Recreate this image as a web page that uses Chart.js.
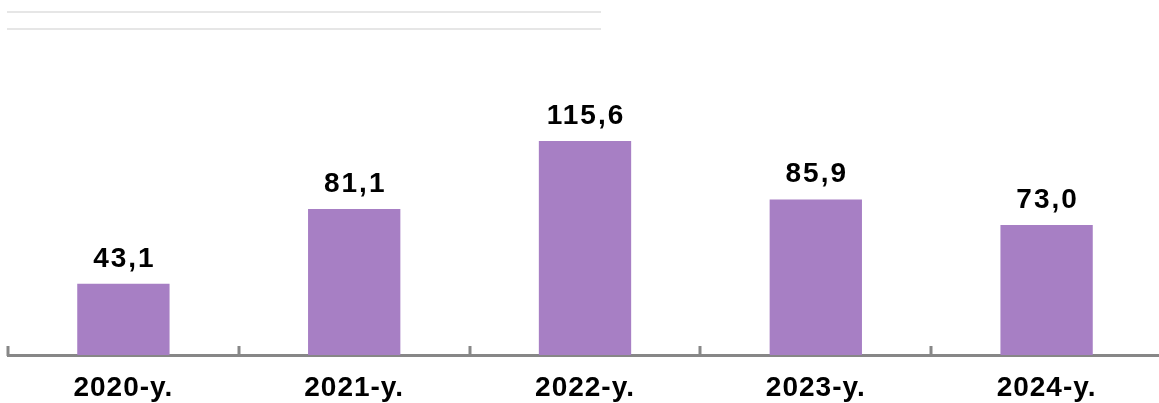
<!DOCTYPE html>
<html>
<head>
<meta charset="utf-8">
<script src="https://cdn.jsdelivr.net/npm/chart.js@4/dist/chart.umd.min.js"></script>
<style>
  html, body { margin: 0; padding: 0; background: #fff; overflow: hidden; }
  #wrap { position: relative; width: 1162px; height: 403px; }
  .topline { position: absolute; left: 7px; width: 594px; height: 2px; background: #e6e6e6; }
</style>
</head>
<body>
<div id="wrap">
  <canvas id="c" width="1162" height="403"></canvas>
  <div class="topline" style="top:11px"></div>
  <div class="topline" style="top:28px"></div>
</div>
<script>
const categories = ["2020-y.", "2021-y.", "2022-y.", "2023-y.", "2024-y."];
const values = [43.1, 81.1, 115.6, 85.9, 73.0];
const valueLabels = ["43,1", "81,1", "115,6", "85,9", "73,0"];

const barColor = "#A77FC4";
const axisColor = "#878787";
const fontFamily = "'Liberation Sans', Arial, sans-serif";

const spacingPlugin = {
  id: 'spacing',
  beforeDraw(chart) { chart.ctx.letterSpacing = '1px'; }
};

const valueLabelPlugin = {
  id: 'valueLabels',
  afterDatasetsDraw(chart) {
    const ctx = chart.ctx;
    const meta = chart.getDatasetMeta(0);
    ctx.save();
    ctx.letterSpacing = '2px';
    ctx.font = "bold 28px " + fontFamily;
    ctx.fillStyle = "#000";
    ctx.textAlign = "center";
    ctx.textBaseline = "alphabetic";
    meta.data.forEach((bar, i) => {
      ctx.fillText(valueLabels[i], bar.x + 1, bar.y - 17);
    });
    ctx.restore();
  }
};

const sepTickPlugin = {
  id: 'sepTicks',
  afterDraw(chart) {
    const ctx = chart.ctx;
    const x = chart.scales.x;
    const bottom = chart.chartArea.bottom;
    const step = x.getPixelForValue(1) - x.getPixelForValue(0);
    ctx.save();
    ctx.strokeStyle = axisColor;
    ctx.lineWidth = 3;
    for (let i = 0; i < categories.length; i++) {
      const px = Math.round(x.getPixelForValue(i) - step / 2);
      ctx.beginPath();
      ctx.moveTo(px, bottom - 9);
      ctx.lineTo(px, bottom + 1);
      ctx.stroke();
    }
    ctx.restore();
  }
};

new Chart(document.getElementById('c'), {
  type: 'bar',
  data: {
    labels: categories,
    datasets: [{
      data: values,
      backgroundColor: barColor,
      borderWidth: 0,
      barPercentage: 0.4,
      categoryPercentage: 1.0
    }]
  },
  options: {
    responsive: false,
    animation: false,
    layout: { padding: { left: 8, right: 0, top: 14, bottom: 0 } },
    plugins: { legend: { display: false }, tooltip: { enabled: false } },
    scales: {
      x: {
        offset: true,
        grid: { display: false, drawTicks: false },
        border: { display: true, color: axisColor, width: 3 },
        ticks: {
          color: "#000",
          padding: 16,
          font: { family: fontFamily, size: 28, weight: 'bold' },
          maxRotation: 0
        },
        afterFit(scale) { scale.height = 48; }
      },
      y: {
        display: false,
        min: 7,
        max: 180
      }
    }
  },
  plugins: [spacingPlugin, valueLabelPlugin, sepTickPlugin]
});
</script>
</body>
</html>
